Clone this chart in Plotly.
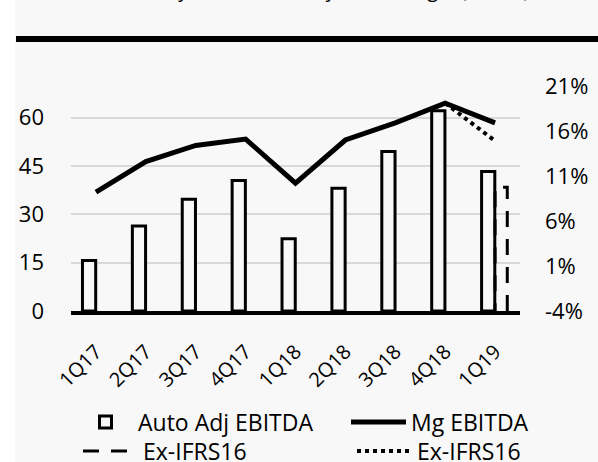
import plotly.graph_objects as go

quarters = ["1Q17", "2Q17", "3Q17", "4Q17", "1Q18", "2Q18", "3Q18", "4Q18", "1Q19"]
auto_adj_ebitda = [15.7, 26.4, 34.7, 40.5, 22.4, 38.1, 49.5, 62.1, 43.3]
ex_ifrs16_bar = [None, None, None, None, None, None, None, None, 38.4]
mg_ebitda = [9.2, 12.6, 14.4, 15.1, 10.2, 15.0, 16.9, 19.1, 16.9]
ex_ifrs16_mg = [None, None, None, None, None, None, None, 19.1, 14.9]
left_ticks = [0, 15, 30, 45, 60]
right_ticks = [-4, 1, 6, 11, 16, 21]
right_labels = [f"{v}%" for v in right_ticks]

BG = "#f8f8f8"
FONT = "Open Sans"
W, H = 598, 462
L, R, T, B = 71, 78, 86, 151
pw, ph = W - L - R, H - T - B

def px_x(p):
    return (p - L) / pw

def px_y(p):
    return (H - B - p) / ph

xs = list(range(len(quarters)))

fig = go.Figure()

fig.add_trace(go.Bar(
    x=xs, y=auto_adj_ebitda, name="Auto Adj EBITDA",
    offset=-0.27, width=0.265,
    marker=dict(color=BG, line=dict(color="black", width=3)),
    legend="legend",
))

# Ex-IFRS16 bar drawn as dashed outline from its value
ex_x, ex_y = [], []
for i, v in enumerate(ex_ifrs16_bar):
    if v is not None:
        ex_x += [i + 0.245, i + 0.245, i, i]
        ex_y += [0, v, v, 0]
fig.add_trace(go.Scatter(
    x=ex_x, y=ex_y, name="Ex-IFRS16", mode="lines",
    line=dict(color="black", width=3, dash="16px,12px"),
    legend="legend3",
))

fig.add_trace(go.Scatter(
    x=xs, y=mg_ebitda, name="Mg EBITDA", mode="lines", yaxis="y2",
    line=dict(color="black", width=5),
    legend="legend2",
))
fig.add_trace(go.Scatter(
    x=xs, y=ex_ifrs16_mg, name="Ex-IFRS16", mode="lines", yaxis="y2",
    line=dict(color="black", width=4, dash="dot"),
    legend="legend4",
))

def leg(xp, yp):
    return dict(
        xref="container", yref="container",
        x=xp / W, y=1 - yp / H, xanchor="left", yanchor="middle",
        bgcolor="rgba(0,0,0,0)", itemwidth=55,
        font=dict(size=23), tracegroupgap=0,
    )

fig.update_layout(
    width=W, height=H,
    margin=dict(l=L, r=R, t=T, b=B, pad=0, autoexpand=False),
    paper_bgcolor="white",
    plot_bgcolor=BG,
    font=dict(family=FONT, size=20, color="#000000"),
    showlegend=True,
    xaxis=dict(
        range=[-0.5, len(quarters) - 0.5],
        tickvals=xs, ticktext=quarters, tickangle=-45,
        showgrid=False, zeroline=False,
        showline=True, linecolor="black", linewidth=4,
        ticks="", ticklabelstandoff=17, automargin=False,
        tickfont=dict(size=20),
    ),
    yaxis=dict(
        range=[0, 69.8], tickvals=left_ticks,
        showgrid=True, gridcolor="#d9d9d9", gridwidth=1.5,
        zeroline=False, showline=False, ticks="", automargin=False,
        ticklabelstandoff=26, tickfont=dict(size=22),
    ),
    yaxis2=dict(
        range=[-4, 21], tickvals=right_ticks, ticktext=right_labels,
        overlaying="y", side="right",
        showgrid=False, zeroline=False, showline=False, ticks="",
        automargin=False,
        ticklabelstandoff=24, tickfont=dict(size=22),
    ),
    legend=leg(73, 422),
    legend2=leg(346, 422),
    legend3=leg(78, 451),
    legend4=leg(352, 451),
    shapes=[
        dict(type="rect", xref="paper", yref="paper", layer="below",
             x0=px_x(15), x1=px_x(W + 2), y0=px_y(H + 2), y1=px_y(-2),
             fillcolor=BG, line=dict(width=0)),
        dict(type="line", xref="paper", yref="paper",
             x0=px_x(16), x1=px_x(W + 2), y0=px_y(39), y1=px_y(39),
             line=dict(color="black", width=6)),
    ],
    annotations=[
        dict(text="Chart 4: Auto Adj EBITDA and adjusted margin (€m, %)",
             xref="paper", yref="paper", x=px_x(25), y=px_y(-11),
             xanchor="left", yanchor="middle", showarrow=False,
             font=dict(size=20, color="#000000")),
    ],
)

fig.write_html("out.html")
